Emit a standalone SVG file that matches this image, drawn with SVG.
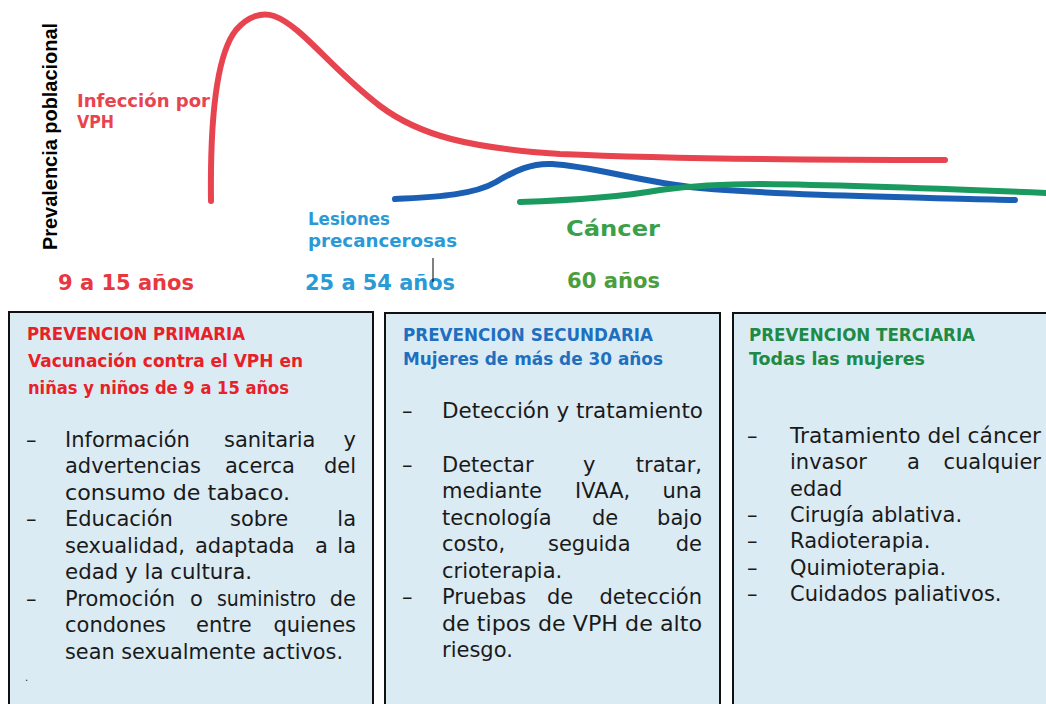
<svg xmlns="http://www.w3.org/2000/svg" width="1046" height="704" viewBox="0 0 1046 704">
<style>
.curve{fill:none;stroke-width:6;stroke-linecap:round;stroke-linejoin:round}
.lbl{font-family:"DejaVu Sans","Liberation Sans",sans-serif;font-weight:bold}
.box{fill:#dbebf4;stroke:#111;stroke-width:2}
.hd{font-family:"DejaVu Sans","Liberation Sans",sans-serif;font-weight:bold;font-size:17.5px}
.bd{font-family:"DejaVu Sans","Liberation Sans",sans-serif;font-size:21px;fill:#1a1a1a}
.end{text-anchor:end}
</style>
<rect width="1046" height="704" fill="#fff"/>
<g id="chart">
<text font-family="'Liberation Sans',Arial,sans-serif" font-weight="bold" font-size="20" fill="#000" textLength="227" lengthAdjust="spacingAndGlyphs" transform="translate(57,250) rotate(-90)">Prevalencia poblacional</text>
<path class="curve" stroke="#e8444f" d="M211,201 C210,120 216,55 236,30 C248,16 262,12 274,16 C302,26 330,68 380,106 C420,136 470,148 560,154 C650,158 800,160 945,160"/>
<path class="curve" stroke="#1a5fb4" d="M395,199 C430,197 472,196 496,182 C516,170 532,163 552,164 C592,166 640,182 700,188 C780,195 900,197 1015,200"/>
<path class="curve" stroke="#1a9a5e" d="M520,202 C580,200 620,197 660,190 C690,186 720,184 760,184 C850,185 950,189 1046,193"/>
<text class="lbl" font-size="18" fill="#e8434f" x="77" y="107" textLength="133" lengthAdjust="spacingAndGlyphs">Infección por</text>
<text class="lbl" font-size="18" fill="#e8434f" x="77" y="128" textLength="37" lengthAdjust="spacingAndGlyphs">VPH</text>
<text class="lbl" font-size="22" fill="#e8373f" x="58" y="290" textLength="136" lengthAdjust="spacingAndGlyphs">9 a 15 años</text>
<text class="lbl" font-size="17" fill="#2a9ad6" x="308" y="225" textLength="82" lengthAdjust="spacingAndGlyphs">Lesiones</text>
<text class="lbl" font-size="17" fill="#2a9ad6" x="308" y="247" textLength="149" lengthAdjust="spacingAndGlyphs">precancerosas</text>
<text class="lbl" font-size="22" fill="#2a9ad6" x="305" y="290" textLength="150" lengthAdjust="spacingAndGlyphs">25 a 54 años</text>
<line x1="433" y1="258" x2="433" y2="282" stroke="#000" stroke-width="1"/>
<text class="lbl" font-size="21" fill="#3aa04a" x="566" y="236" textLength="94" lengthAdjust="spacingAndGlyphs">Cáncer</text>
<text class="lbl" font-size="21" fill="#4a9e3c" x="567" y="288" textLength="93" lengthAdjust="spacingAndGlyphs">60 años</text>
</g>
<g id="primaria">
<rect class="box" x="9" y="312" width="364" height="400"/>
<text class="hd" fill="#e82027" x="27" y="340" textLength="218" lengthAdjust="spacingAndGlyphs">PREVENCION PRIMARIA</text>
<text class="hd" fill="#e82027" x="28" y="367" textLength="275" lengthAdjust="spacingAndGlyphs">Vacunación contra el VPH en</text>
<text class="hd" fill="#e82027" x="28" y="394" textLength="261" lengthAdjust="spacingAndGlyphs">niñas y niños de 9 a 15 años</text>
<g class="bd">
<text x="26" y="446.5">–</text><text x="65" y="446.5">Información</text><text x="224" y="446.5">sanitaria</text><text class="end" x="356" y="446.5">y</text>
<text x="65" y="473">advertencias</text><text x="225" y="473">acerca</text><text class="end" x="356" y="473">del</text>
<text x="65" y="499.5" textLength="225" lengthAdjust="spacingAndGlyphs">consumo de tabaco.</text>
<text x="26" y="526">–</text><text x="65" y="526">Educación</text><text x="230" y="526">sobre</text><text class="end" x="356" y="526">la</text>
<text x="65" y="552.5">sexualidad,</text><text x="195" y="552.5">adaptada</text><text x="315" y="552.5">a</text><text class="end" x="356" y="552.5">la</text>
<text x="65" y="579" textLength="187" lengthAdjust="spacingAndGlyphs">edad y la cultura.</text>
<text x="26" y="605.5">–</text><text x="65" y="605.5">Promoción</text><text x="190" y="605.5">o</text><text x="217" y="605.5" textLength="99" lengthAdjust="spacingAndGlyphs">suministro</text><text class="end" x="356" y="605.5">de</text>
<text x="65" y="632">condones</text><text x="196" y="632">entre</text><text class="end" x="356" y="632">quienes</text>
<text x="65" y="658.5" textLength="278" lengthAdjust="spacingAndGlyphs">sean sexualmente activos.</text>
<text x="25" y="681" font-size="10">.</text>
</g>
</g>
<g id="secundaria">
<rect class="box" x="385" y="313" width="335" height="400"/>
<text class="hd" fill="#1f6fbf" x="403" y="341" textLength="250" lengthAdjust="spacingAndGlyphs">PREVENCION SECUNDARIA</text>
<text class="hd" fill="#1f6fbf" x="403" y="365" textLength="260" lengthAdjust="spacingAndGlyphs">Mujeres de más de 30 años</text>
<g class="bd">
<text x="402" y="418">–</text><text x="442" y="418" textLength="261" lengthAdjust="spacingAndGlyphs">Detección y tratamiento</text>
<text x="402" y="472">–</text><text x="442" y="472">Detectar</text><text x="583" y="472">y</text><text class="end" x="702" y="472">tratar,</text>
<text x="442" y="498.4">mediante</text><text x="575" y="498.4">IVAA,</text><text class="end" x="702" y="498.4">una</text>
<text x="442" y="524.9">tecnología</text><text x="592" y="524.9">de</text><text class="end" x="702" y="524.9">bajo</text>
<text x="442" y="551.3">costo,</text><text x="548" y="551.3">seguida</text><text class="end" x="702" y="551.3">de</text>
<text x="442" y="577.7">crioterapia.</text>
<text x="402" y="604.1">–</text><text x="442" y="604.1">Pruebas</text><text x="547" y="604.1">de</text><text class="end" x="702" y="604.1">detección</text>
<text x="442" y="630.6" textLength="260" lengthAdjust="spacingAndGlyphs">de tipos de VPH de alto</text>
<text x="442" y="657">riesgo.</text>
</g>
</g>
<g id="terciaria">
<rect class="box" x="733" y="313" width="330" height="400"/>
<text class="hd" fill="#1e8a46" x="749" y="341" textLength="226" lengthAdjust="spacingAndGlyphs">PREVENCION TERCIARIA</text>
<text class="hd" fill="#1e8a46" x="749" y="365" textLength="176" lengthAdjust="spacingAndGlyphs">Todas  las  mujeres</text>
<g class="bd">
<text x="747" y="443">–</text><text x="790" y="443" textLength="251" lengthAdjust="spacingAndGlyphs">Tratamiento del cáncer</text>
<text x="790" y="469.3">invasor</text><text x="907" y="469.3">a</text><text class="end" x="1041" y="469.3">cualquier</text>
<text x="790" y="495.6">edad</text>
<text x="747" y="522">–</text><text x="790" y="522">Cirugía ablativa.</text>
<text x="747" y="548.3">–</text><text x="790" y="548.3">Radioterapia.</text>
<text x="747" y="574.6">–</text><text x="790" y="574.6">Quimioterapia.</text>
<text x="747" y="601">–</text><text x="790" y="601">Cuidados paliativos.</text>
</g>
</g>
</svg>
